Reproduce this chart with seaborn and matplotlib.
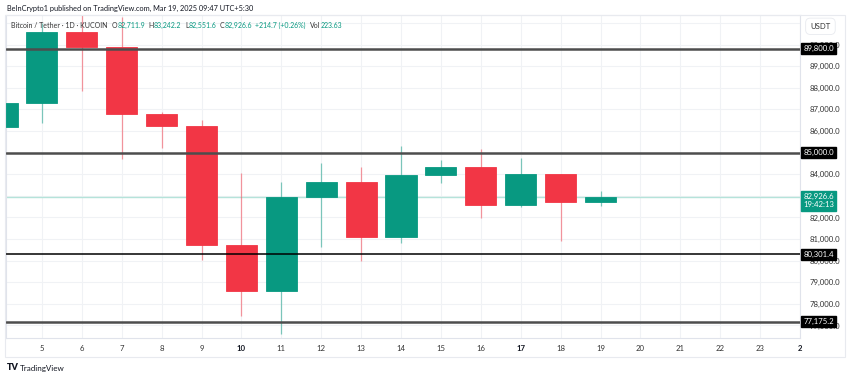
import seaborn as sns
import numpy as np
import pandas as pd
import matplotlib.pyplot as plt
import matplotlib.transforms as mtransforms

# Daily BTC/USDT candles, March 2025 (KuCoin, 1D)
days = [4, 5, 6, 7, 8, 9, 10, 11, 12, 13, 14, 15, 16, 17, 18, 19]
opens = [86200, 87290, 90600, 89900, 86790, 86240, 80730, 78590, 82930, 83660, 81090, 83969, 84324, 82579, 84000, 82711.9]
highs = [88900, 90998, 92804, 91283, 86900, 86510, 84074, 83630, 84510, 84350, 85324, 84660, 85157, 84740, 84000, 83242.2]
lows = [81500, 86390, 87870, 84710, 85230, 80030, 77454, 76606, 80635, 80000, 80820, 83611, 81963, 82472, 80930, 82551.6]
closes = [87290, 90600, 89900, 86790, 86240, 80730, 78590, 82930, 83660, 81090, 83969, 84324, 82579, 84000, 82711.9, 82926.6]

levels = [89800, 85000, 80301.4, 77175.2]
last_price = 82926.6
countdown = "19:42:13"

# 85,000 and 83,000 sit fully under the level / last-price tags
price_ticks = [p for p in range(77000, 91000, 1000) if p not in (85000, 83000)]
day_ticks = list(range(5, 25))
day_labels = [str(d) for d in range(5, 24)] + ["2"]
bold_days = [10, 17, 24]

df = pd.DataFrame({"day": days, "open": opens, "high": highs, "low": lows, "close": closes})
df["up"] = df["close"] >= df["open"]

GREEN = "#089981"
RED = "#F23645"
TXT = "#131722"
GREY = "#333333"
FS = 5.6

sns.set_style("white")
plt.rcParams["font.family"] = ["Lato", "DejaVu Sans"]

fig = plt.figure(figsize=(8.5, 3.78), dpi=100)
ax = fig.add_axes([6 / 850, 1 - 338 / 378, 794 / 850, 323 / 378])

# grid
for d in day_ticks:
    ax.axvline(d, color="#f0f2f5", lw=0.8, zorder=0)
for p in range(76000, 92001, 1000):
    ax.axhline(p, color="#f0f2f5", lw=0.8, zorder=0)

# candles
colors = np.where(df["up"], GREEN, RED)
ax.vlines(df["day"], df["low"], df["high"], colors=colors, lw=0.9, alpha=0.5, zorder=2)
body_bottom = np.minimum(df["open"], df["close"])
body_height = np.abs(df["close"] - df["open"])
ax.bar(df["day"], body_height, bottom=body_bottom, width=0.78, color=colors,
       edgecolor=colors, linewidth=0.6, zorder=3)

# current price line
ax.axhline(last_price, color="#b5e3da", lw=1, zorder=1)

# support / resistance levels
for lv in levels:
    c = "black" if lv == 80301.4 else "#4d4d4d"
    w = 1.1 if lv == 80301.4 else 1.8
    ax.axhline(lv, color=c, lw=w, zorder=4)

ax.set_xlim(4.1, 24.0)
ax.set_ylim(76420, 91370)

# axes styling
for s in ax.spines.values():
    s.set_color("#e0e3eb")
    s.set_linewidth(0.8)
ax.yaxis.tick_right()
ax.set_yticks(price_ticks)
ax.set_yticklabels([f"{p:,.1f}" for p in price_ticks])
ax.tick_params(axis="y", length=0, pad=7, labelsize=FS, labelcolor=GREY)
ax.set_xticks(day_ticks)
ax.set_xticklabels(day_labels)
ax.tick_params(axis="x", length=0, pad=5, labelsize=FS, labelcolor=GREY)
for lab, d in zip(ax.get_xticklabels(), day_ticks):
    if d in bold_days:
        lab.set_fontweight("bold")
        lab.set_color(TXT)

trans = mtransforms.blended_transform_factory(ax.transAxes, ax.transData)
for lv in levels:
    ax.text(1.004, lv, f"{lv:,.1f}", transform=trans, ha="left", va="center",
            fontsize=FS, color="white", clip_on=False, zorder=10,
            bbox=dict(boxstyle="square,pad=0.25", fc="black", ec="black"))
shift = trans + mtransforms.ScaledTranslation(0, 4 / 100, fig.dpi_scale_trans)
ax.text(1.004, last_price, f"{last_price:,.1f}\n{countdown}", transform=shift,
        ha="left", va="top", fontsize=FS, color="white", clip_on=False, zorder=10,
        linespacing=1.15, bbox=dict(boxstyle="square,pad=0.3", fc=GREEN, ec=GREEN))
ax.text(1.013, 0.965, "USDT", transform=ax.transAxes, ha="left", va="center",
        fontsize=FS, color=GREY, clip_on=False, zorder=10,
        bbox=dict(boxstyle="round,pad=0.6", fc="white", ec="#e8eaef", lw=0.6))

# outer frame around chart + price/time scales
frame = plt.Rectangle((5 / 850, 1 - 357 / 378), 840 / 850, 342 / 378,
                      transform=fig.transFigure, fill=False, ec="#e8eaef", lw=0.8)
fig.patches.append(frame)

# header
fig.text(7 / 850, 1 - 8 / 378, "BeInCrypto1 published on TradingView.com, Mar 19, 2025 09:47 UTC+5:30",
         fontsize=5.3, color=TXT, va="center", ha="left")

# legend row: (text, colour, gap in points before it)
segments = [("O", GREY, 3), ("82,711.9", GREEN, 0), ("H", GREY, 2.6), ("83,242.2", GREEN, 0),
            ("L", GREY, 2.6), ("82,551.6", GREEN, 0), ("C", GREY, 2.6), ("82,926.6", GREEN, 0),
            ("+214.7 (+0.26%)", GREEN, 2.6), ("Vol", GREY, 3), ("223.63", GREEN, 0)]
prev = fig.text(11 / 850, 1 - 25 / 378, "Bitcoin / Tether · 1D · KUCOIN", fontsize=5.0,
                color=GREY, va="center", ha="left")
for s, c, gap in segments:
    prev = ax.annotate(s, xy=(1, 0.5), xycoords=prev, xytext=(gap, 0), textcoords="offset points",
                       va="center", ha="left", fontsize=5.0, color=c, annotation_clip=False)

# footer logo
fig.text(7 / 850, 1 - 368 / 378, "TV", fontsize=6.5, fontweight="heavy", color=TXT, va="center")
fig.text(20 / 850, 1 - 368 / 378, "TradingView", fontsize=5.8, color=TXT, va="center")

fig.savefig("out.png", dpi=100)
